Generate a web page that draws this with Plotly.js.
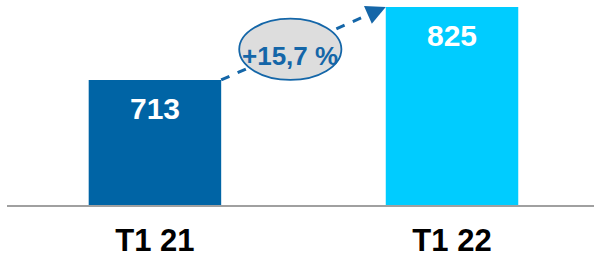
<!DOCTYPE html>
<html>
<head>
<meta charset="utf-8">
<script src="https://cdn.plot.ly/plotly-3.0.1.min.js"></script>
<style>html,body{margin:0;padding:0;background:#fff;}#chart{width:594px;height:258px;}</style>
</head>
<body>
<div id="chart"></div>
<script>
const categories = ["T1 21", "T1 22"];
const values = [713, 825];
const barColors = ["#0064A5", "#00CCFF"];

const BW = 0.446;
const FONT = "Liberation Sans, Arial, sans-serif";
const growth = (values[1] / values[0] - 1) * 100;
const growthText = "+" + growth.toFixed(1).replace(".", ",") + " %";

// line endpoints from bar corners
const x0 = 0 + BW / 2, y0 = values[0];
const x1 = 1 - BW / 2, y1 = values[1];
// ellipse placed on the line, slightly left of its midpoint
const t = 0.42;
const cx = x0 + (x1 - x0) * t, cy = y0 + (y1 - y0) * t;
const rx = 0.172, ry = 47;

const trace = {
  type: "bar",
  x: [0, 1],
  y: values,
  width: BW,
  marker: {color: barColors},
  hoverinfo: "none"
};

const annotations = values.map((v, i) => ({
  x: i, y: v, xref: "x", yref: "y",
  text: "<b>" + v + "</b>", showarrow: false,
  yanchor: "top", yshift: -10,
  font: {family: FONT, size: 30, color: "#FFFFFF"}
}));
annotations.push({
  x: cx, y: cy, xref: "x", yref: "y",
  text: "<b>" + growthText + "</b>", showarrow: false,
  yshift: -7,
  font: {family: FONT, size: 26, color: "#1466A8"}
});
annotations.push({
  x: x1, y: y1, xref: "x", yref: "y",
  text: "", showarrow: true,
  ax: -15, ay: 6.6,
  arrowhead: 2, arrowsize: 1.5, arrowwidth: 2.6,
  arrowcolor: "#1466A8"
});

const layout = {
  width: 594, height: 258,
  margin: {l: 7, r: 0, t: 0, b: 53},
  paper_bgcolor: "#FFFFFF", plot_bgcolor: "#FFFFFF",
  showlegend: false,
  xaxis: {
    range: [-0.498, 1.478],
    tickmode: "array", tickvals: [0, 1],
    ticktext: categories.map(c => "<b>" + c + "</b>"),
    tickfont: {family: FONT, size: 31, color: "#000000"},
    ticklabelstandoff: 7,
    showgrid: false, zeroline: false,
    showline: true, linecolor: "#A0A0A0", linewidth: 2,
    ticks: "", fixedrange: true
  },
  yaxis: {
    range: [521.2, 835.7],
    visible: false, showgrid: false, zeroline: false, fixedrange: true
  },
  shapes: [
    {type: "line", xref: "x", yref: "y", x0: x0, y0: y0, x1: x1 - 0.03, y1: y1 - 0.03 * (y1 - y0) / (x1 - x0),
     line: {color: "#1466A8", width: 3, dash: "dash"}},
    {type: "circle", xref: "x", yref: "y",
     x0: cx - rx, x1: cx + rx, y0: cy - ry, y1: cy + ry,
     fillcolor: "#DDDDDD", line: {color: "#1466A8", width: 1.8}}
  ],
  annotations: annotations
};

Plotly.newPlot("chart", [trace], layout, {displayModeBar: false, staticPlot: true});
</script>
</body>
</html>
